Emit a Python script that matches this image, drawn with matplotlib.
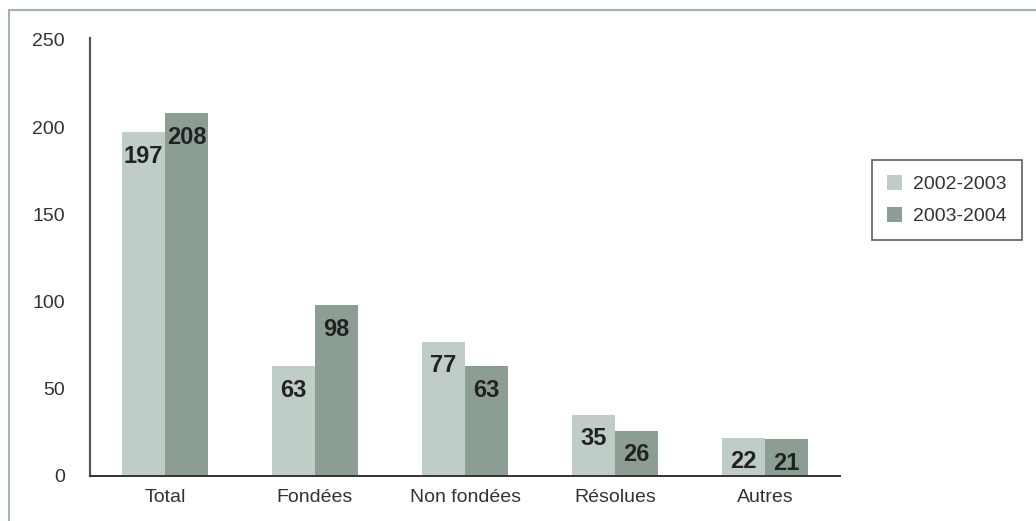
# -*- coding: utf-8 -*-
# Bar chart: plaintes 2002-2003 vs 2003-2004

import numpy as np
import matplotlib
matplotlib.use("Agg")
import matplotlib.pyplot as plt
from matplotlib.lines import Line2D
from matplotlib.patches import Patch

# Data

categories = ["Total", "Fondées", "Non fondées", "Résolues", "Autres"]
values_2002 = [197, 63, 77, 35, 22]
values_2003 = [208, 98, 63, 26, 21]
series_names = ["2002-2003", "2003-2004"]
yticks = [0, 50, 100, 150, 200, 250]

lightColor = "#bfcdc6"
darkColor = "#8c9e93"
textColor = "#333333"

W, H = 1036, 521
fig = plt.figure(figsize=(W / 100, H / 100), dpi=100)

ax = fig.add_axes([90 / W, (H - 476) / H, 750 / W, 436 / H])

x = np.arange(len(categories))
barWidth = 0.288

bars1 = ax.bar(x - barWidth / 2, values_2002, barWidth, color=lightColor, label=series_names[0])
bars2 = ax.bar(x + barWidth / 2, values_2003, barWidth, color=darkColor, label=series_names[1])

# Value labels inside the bars, near the top
for barGroup in (bars1, bars2):
    for b in barGroup:
        ax.annotate("{}".format(int(b.get_height())),
                    (b.get_x() + b.get_width() / 2, b.get_height()),
                    xytext=(0, -24), textcoords="offset pixels",
                    ha="center", va="center", fontsize=17, fontweight="bold",
                    color="#222222",
                    family=["Liberation Sans Narrow", "DejaVu Sans Condensed", "Liberation Sans"])

ax.set_xlim(-0.5, len(categories) - 0.5)
ax.set_ylim(0, 250)
ax.set_yticks(yticks)
ax.set_xticks(x)
ax.set_xticklabels(categories)

for lbl in ax.get_xticklabels() + ax.get_yticklabels():
    lbl.set_family(["Liberation Sans", "DejaVu Sans"])
    lbl.set_fontsize(14)
    lbl.set_color(textColor)

ax.tick_params(axis="both", length=0)
ax.tick_params(axis="y", pad=18)
ax.tick_params(axis="x", pad=9)

ax.spines["top"].set_visible(False)
ax.spines["right"].set_visible(False)
ax.spines["left"].set_color("#555555")
ax.spines["bottom"].set_color("#333333")
ax.spines["left"].set_linewidth(1.6)
ax.spines["bottom"].set_linewidth(1.4)
ax.spines["left"].set_bounds(0, 251)

# Legend
handles = [Patch(facecolor=lightColor, edgecolor="none"),
           Patch(facecolor=darkColor, edgecolor="none")]
leg = fig.legend(handles, series_names, loc="center",
                 bbox_to_anchor=(947 / W, 1 - 200 / H),
                 frameon=True, fancybox=False, edgecolor="#333333",
                 handlelength=0.75, handleheight=0.8, handletextpad=0.6,
                 labelspacing=0.7, borderpad=0.75,
                 prop={"family": ["Liberation Sans", "DejaVu Sans"], "size": 14})
leg.get_frame().set_linewidth(1.2)
for t in leg.get_texts():
    t.set_color(textColor)

# Outer frame lines (top and left)
frameColor = "#a3b3ab"
fig.add_artist(Line2D([8.5 / W, 1], [1 - 9.5 / H, 1 - 9.5 / H], color=frameColor, lw=1.5,
                      transform=fig.transFigure))
fig.add_artist(Line2D([8.5 / W, 8.5 / W], [0, 1 - 9.5 / H], color=frameColor, lw=1.5,
                      transform=fig.transFigure))

plt.savefig("out.png", dpi=100)
